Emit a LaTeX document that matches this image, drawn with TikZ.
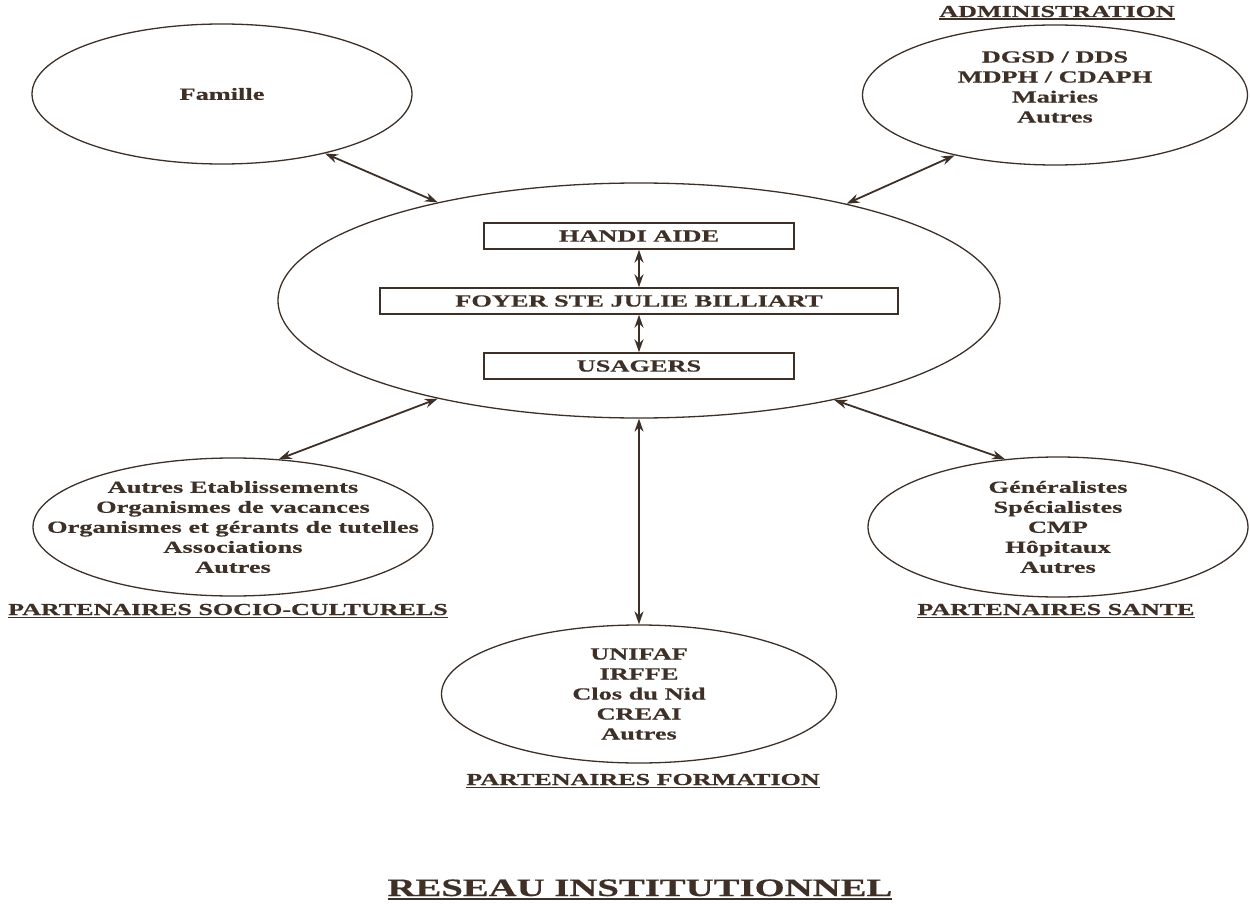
\documentclass[tikz,border=0pt]{standalone}
\usepackage{fontspec}
\setmainfont{Liberation Serif}[FakeStretch=1.55,FakeBold=0.5]
\usetikzlibrary{shapes.geometric,arrows.meta}
\definecolor{ink}{RGB}{62,48,38}
\newsavebox{\ulbox}
\newcommand{\ulined}[3]{\sbox{\ulbox}{#1}\rlap{\rule[-#2]{\wd\ulbox}{#3}}\usebox{\ulbox}}
\begin{document}
\begin{tikzpicture}[x=1pt,y=-1pt,
  bubble/.style={draw=ink, line width=1.3pt, ellipse, inner sep=0pt},
  txt/.style={text=ink, font=\bfseries\fontsize{17}{20}\selectfont, align=center, inner sep=0pt},
  boxn/.style={draw=ink, line width=1.5pt, rectangle, minimum height=26pt, inner sep=0pt, text=ink, font=\bfseries\fontsize{17}{20}\selectfont},
  link/.style={draw=ink, line width=1.8pt, {Stealth[length=13pt,width=9pt]}-{Stealth[length=13pt,width=9pt]}},
  lab/.style={text=ink, font=\bfseries\fontsize{16.8}{19}\selectfont, inner sep=0pt, anchor=base}]
\useasboundingbox (0,0) rectangle (1250,904);
\fill[white] (0,0) rectangle (1250,904);

% ellipses
\node[bubble, minimum width=380pt, minimum height=140pt] (fam) at (222,94) {};
\node[bubble, minimum width=385pt, minimum height=140pt] (adm) at (1055,95) {};
\node[bubble, minimum width=722pt, minimum height=235pt] (ctr) at (639,300.5) {};
\node[bubble, minimum width=400pt, minimum height=138pt] (soc) at (233,527) {};
\node[bubble, minimum width=380pt, minimum height=140pt] (san) at (1058,527) {};
\node[bubble, minimum width=395pt, minimum height=138pt] (frm) at (639,694) {};

% texts in ellipses
\node[txt] (famt) at (fam) {Famille};
\node[txt] (admt) at (1055,87) {DGSD / DDS\\MDPH / CDAPH\\Mairies\\Autres};
\node[txt] (soct) at (soc) {Autres Etablissements\\Organismes de vacances\\Organismes et gérants de tutelles\\Associations\\Autres};
\node[txt] (sant) at (san) {Généralistes\\Spécialistes\\CMP\\Hôpitaux\\Autres};
\node[txt] (frmt) at (frm) {UNIFAF\\IRFFE\\Clos du Nid\\CREAI\\Autres};

% boxes
\node[boxn, minimum width=310pt] (handi) at (639,236) {HANDI AIDE};
\node[boxn, minimum width=518pt] (foyer) at (639,301) {FOYER STE JULIE BILLIART};
\node[boxn, minimum width=310pt] (usag) at (639,366) {USAGERS};

% labels
\node[lab] (admlab) at (1057,17) {\ulined{ADMINISTRATION}{3pt}{1.5pt}};
\node[lab] (soclab) at (228,615) {\ulined{PARTENAIRES SOCIO-CULTURELS}{3pt}{1.5pt}};
\node[lab] (sanlab) at (1056,615) {\ulined{PARTENAIRES SANTE}{3pt}{1.5pt}};
\node[lab] (frmlab) at (643,785) {\ulined{PARTENAIRES FORMATION}{3pt}{1.5pt}};
\node[lab, font=\bfseries\fontsize{25}{28}\selectfont] (title) at (640,896) {\ulined{RESEAU INSTITUTIONNEL}{3.5pt}{2pt}};

% connectors
\draw[link] (fam.-30.6) -- (ctr.154.6);
\draw[link] (adm.211) -- (ctr.25.5);
\draw[link] (soc.56) -- (ctr.206.7);
\draw[link] (san.128.6) -- (ctr.333.9);
\draw[link] (frm.north) -- (ctr.south);
\draw[link] (handi.south) -- (foyer.north);
\draw[link] (foyer.south) -- (usag.north);
\end{tikzpicture}
\end{document}
